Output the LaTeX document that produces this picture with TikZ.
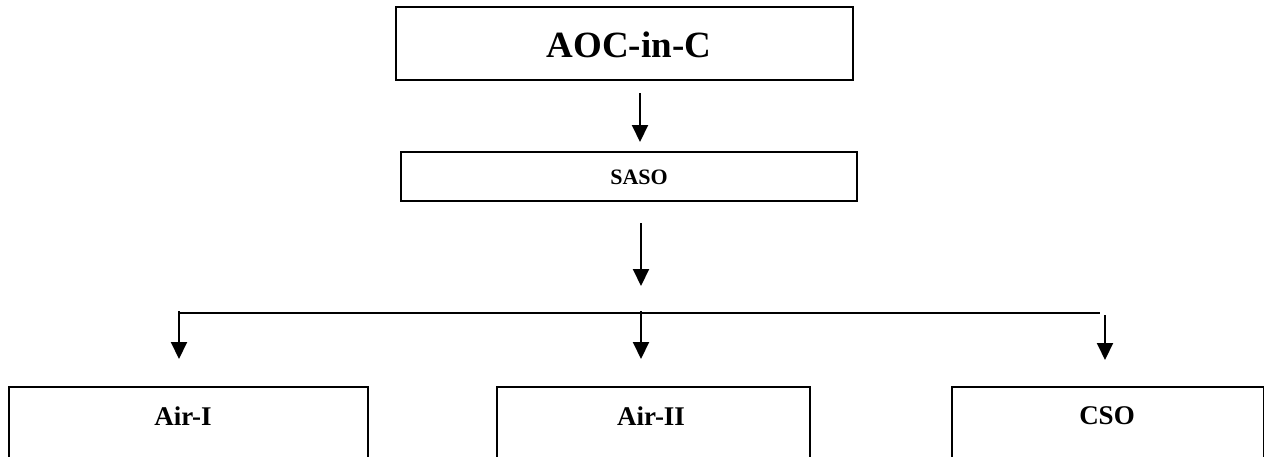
\documentclass[tikz,border=0pt]{standalone}
\usepackage{fontspec}
\setmainfont{Liberation Serif}
\usetikzlibrary{arrows.meta}
\begin{document}
\begin{tikzpicture}[x=1pt,y=-1pt,
  box/.style={draw, line width=2pt, inner sep=0pt, anchor=north west},
  lbl/.style={inner sep=0pt},
  arr/.style={line width=2pt, -{Triangle[width=16pt,length=17pt]}},
  bus/.style={line width=2pt}]
\useasboundingbox (0,0) rectangle (1264,456);
\clip (0,0) rectangle (1264,456);
% boxes
\node[box, minimum width=457pt, minimum height=73pt] (aoc) at (395,6) {};
\node[box, minimum width=456pt, minimum height=49pt] (saso) at (400,151) {};
\node[box, minimum width=359pt, minimum height=90pt] (air1) at (8,386) {};
\node[box, minimum width=313pt, minimum height=90pt] (air2) at (496,386) {};
\node[box, minimum width=312pt, minimum height=90pt] (cso) at (951,386) {};
% labels
\node[lbl, font=\fontsize{37}{42}\selectfont\bfseries] (aoct) at (629,45) {AOC-in-C};
\node[lbl, font=\fontsize{22}{26}\selectfont\bfseries] (sasot) at (639,177) {SASO};
\node[lbl, font=\fontsize{27}{31}\selectfont\bfseries] (air1t) at (183,416) {Air-I};
\node[lbl, font=\fontsize{27}{31}\selectfont\bfseries] (air2t) at (651,416) {Air-II};
\node[lbl, font=\fontsize{27}{31}\selectfont\bfseries] (csot) at (1107,416) {CSO};
% connector points
\coordinate (a1s) at (640,93);
\coordinate (a1e) at (640,142);
\coordinate (a2s) at (641,223);
\coordinate (a2e) at (641,286);
\coordinate (bl) at (179,313);
\coordinate (br) at (1100,313);
\coordinate (l1s) at (179,311);
\coordinate (l1e) at (179,359);
\coordinate (m1s) at (641,311);
\coordinate (m1e) at (641,359);
\coordinate (r1s) at (1105,315);
\coordinate (r1e) at (1105,360);
% connectors
\draw[arr] (a1s) -- (a1e);
\draw[arr] (a2s) -- (a2e);
\draw[bus] (bl) -- (br);
\draw[arr] (l1s) -- (l1e);
\draw[arr] (m1s) -- (m1e);
\draw[arr] (r1s) -- (r1e);
\end{tikzpicture}
\end{document}
